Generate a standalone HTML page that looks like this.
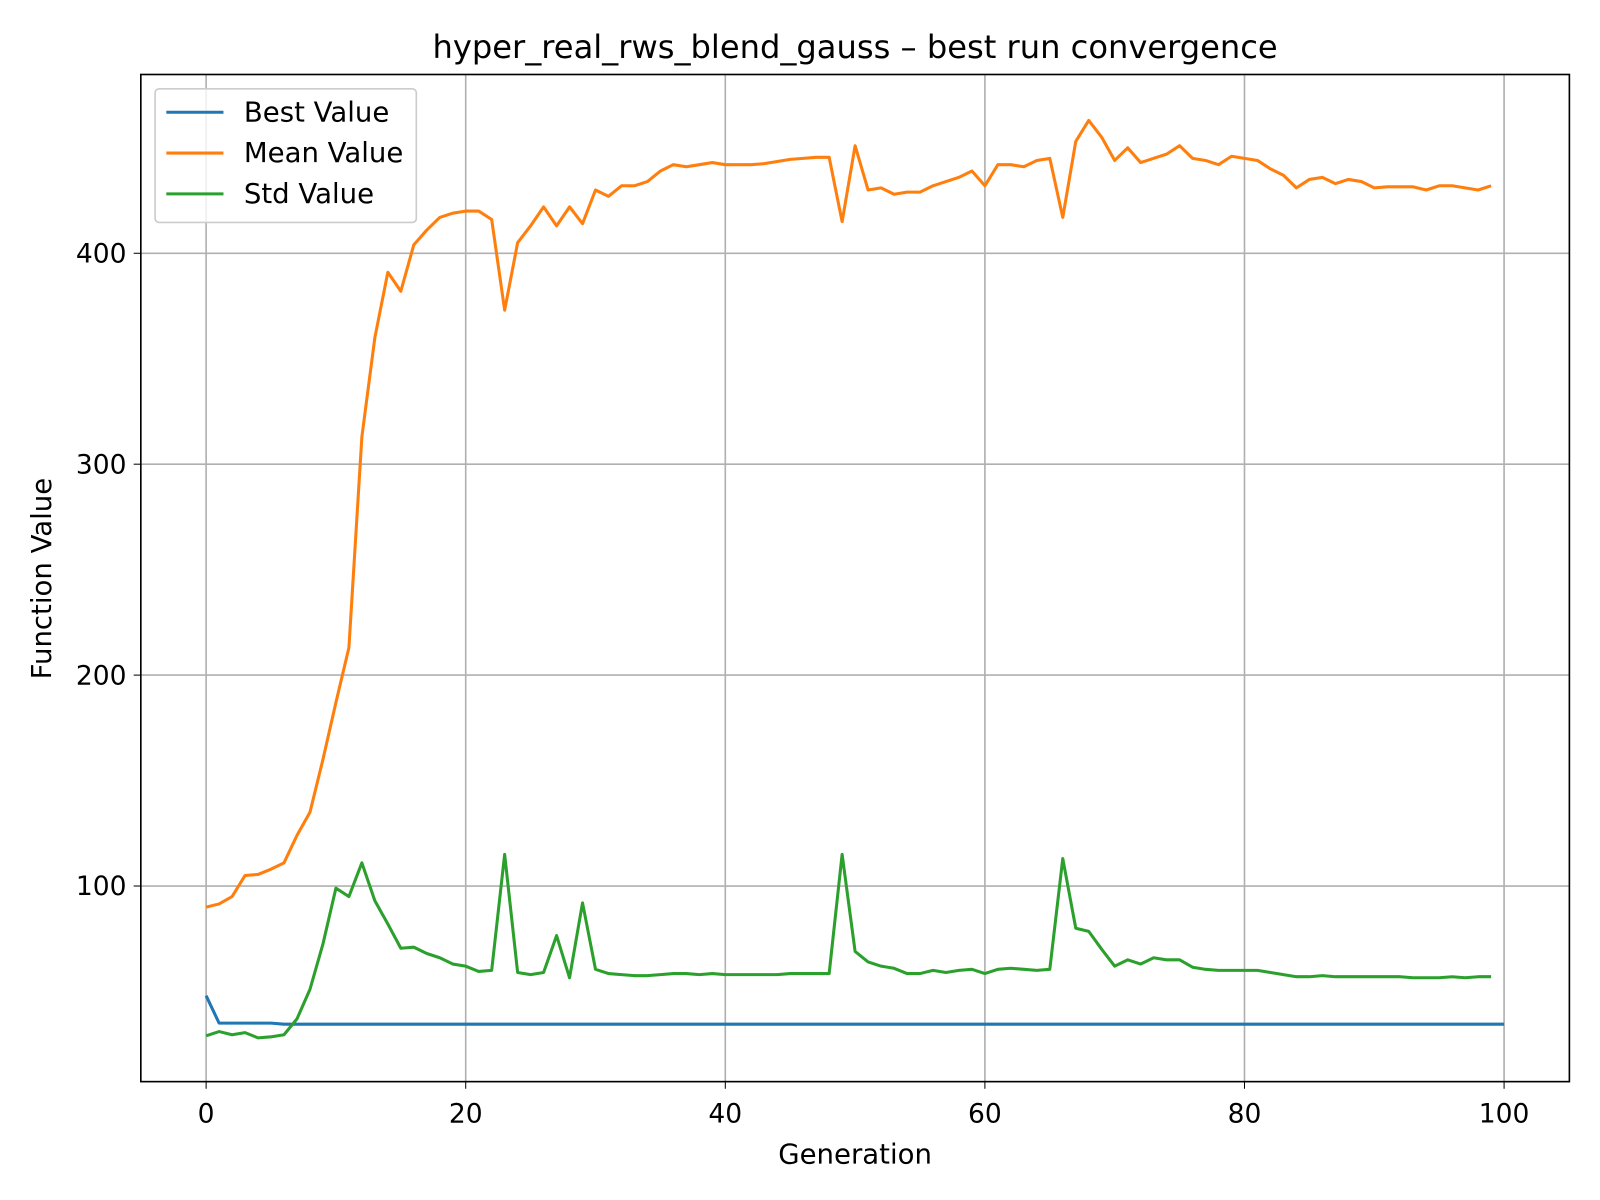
<!DOCTYPE html>
<html><head><meta charset="utf-8"><style>body{margin:0;background:#fff}svg{display:block}text{font-family:"DejaVu Sans","Liberation Sans",sans-serif;fill:#000}</style></head>
<body>
<svg id="chart" width="1600" height="1200" viewBox="0 0 1568 1176"></svg>
<script>
const generations = Array.from({length:100},(_, i)=>i);
const bestValues = [48,35,35,35,35,35,34.5,34.5,34.5,34.5];
for(let i=10;i<=100;i++) bestValues.push(34.5);
const meanValues = [90,91.5,95,105,105.5,108,111,124,135,160,187,213,313,360,391,382,404,411,417,419,420,420,416,373,405,413,422,413,422,414,430,427,432,432,434,439,442,441,442,443,442,442,442,442.5,443.5,444.5,445,445.5,445.5,415,451,430,431,428,429,429,432,434,436,439,432,442,442,441,444,445,417,453,463,455,444,450,443,445,447,451,445,444,442,446,445,444,440,437,431,435,436,433,435,434,431,431.5,431.5,431.5,430,432,432,431,430,432];
const stdValues = [29,31,29.5,30.5,28,28.5,29.5,37,51,72.5,99,95,111,93,82,70.5,71,68,66,63,62,59.5,60,115,59,58,59,76.5,56.5,92,60.5,58.5,58,57.5,57.5,58,58.5,58.5,58,58.5,58,58,58,58,58,58.5,58.5,58.5,58.5,115,69,64,62,61,58.5,58.5,60,59,60,60.5,58.5,60.5,61,60.5,60,60.5,113,80,78.5,70,62,65,63,66,65,65,61.5,60.5,60,60,60,60,59,58,57,57,57.5,57,57,57,57,57,57,56.5,56.5,56.5,57,56.5,57,57];
const xTicks = [0,20,40,60,80,100];
const yTicks = [100,200,300,400];

const L=138,R=1538,T=73,B=1060;
const X=v=>202+v*12.72;
const Y=v=>1075-v*2.067;
const svg=document.getElementById('chart');
const NS='http://www.w3.org/2000/svg';
function mk(tag,attrs,parent){const e=document.createElementNS(NS,tag);for(const k in attrs)e.setAttribute(k,attrs[k]);(parent||svg).appendChild(e);return e;}

const title=mk('text',{x:838,y:57,'text-anchor':'middle','font-size':31.5});
title.textContent='hyper_real_rws_blend_gauss – best run convergence';



const grid=mk('g',{stroke:'#b0b0b0','stroke-width':1.6});


xTicks.forEach(t=>{
  mk('line',{x1:X(t),x2:X(t),y1:T,y2:B},grid);
  mk('line',{x1:X(t),x2:X(t),y1:B,y2:B+7,stroke:'#000'});
  const lb=mk('text',{x:X(t),y:B+40,'text-anchor':'middle','font-size':26});
  lb.textContent=t;
  
  
});
yTicks.forEach(t=>{
  mk('line',{x1:L,x2:R,y1:Y(t),y2:Y(t)},grid);
  mk('line',{x1:L-7,x2:L,y1:Y(t),y2:Y(t),stroke:'#000'});
  const lb=mk('text',{x:L-14,y:Y(t)+9,'text-anchor':'end','font-size':26});
  lb.textContent=t;
  
  
});

function line(xs,ys,color,name){
  const p=mk('polyline',{points:xs.map((x,i)=>X(x)+','+Y(ys[i])).join(' '),fill:'none',stroke:color,'stroke-width':3,'stroke-linejoin':'round'});
  
  
}
line(bestValues.map((_,i)=>i),bestValues,'#1f77b4','best-value-line');
line(generations,meanValues,'#ff7f0e','mean-value-line');
line(generations,stdValues,'#2ca02c','std-value-line');

const frame=mk('rect',{x:L,y:T,width:R-L,height:B-T,fill:'none',stroke:'#000','stroke-width':1.6});



const xl=mk('text',{x:838,y:1140,'text-anchor':'middle','font-size':27});
xl.textContent='Generation';


const yl=mk('text',{x:0,y:0,'text-anchor':'middle','font-size':27,transform:'translate(50,567) rotate(-90)'});
yl.textContent='Function Value';



const lg=mk('g',{});


mk('rect',{x:152,y:87,width:256,height:131,rx:4,fill:'#fff','fill-opacity':0.8,stroke:'#ccc','stroke-width':1.6},lg);
[['Best Value','#1f77b4'],['Mean Value','#ff7f0e'],['Std Value','#2ca02c']].forEach((e,i)=>{
  const y=110+i*40;
  mk('line',{x1:163,x2:219,y1:y,y2:y,stroke:e[1],'stroke-width':3},lg);
  const t=mk('text',{x:239,y:y+9,'font-size':27},lg);
  t.textContent=e[0];
  
  
});
</script>
</body></html>
